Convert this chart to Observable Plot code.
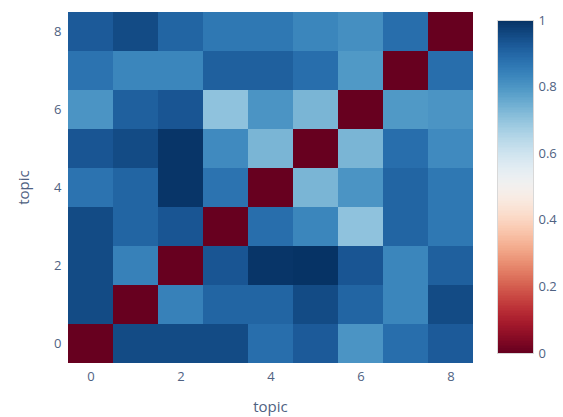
<!DOCTYPE html>
<html>
<head>
<meta charset="utf-8">
<script src="https://cdn.jsdelivr.net/npm/d3@7"></script>
<script src="https://cdn.jsdelivr.net/npm/@observablehq/plot@0.6"></script>
<style>
  html, body { margin: 0; padding: 0; background: #fff; }
  #wrap { position: relative; width: 563px; height: 417px; }
  #wrap > div { position: absolute; top: 0; }
  text { font-family: "Open Sans", sans-serif; }
</style>
</head>
<body>
<div id="wrap"><div id="main" style="left:0"></div><div id="bar" style="left:497px"></div></div>
<script>
// topics (x and y categories)
const topics = [0, 1, 2, 3, 4, 5, 6, 7, 8];
const tickLabels = [0, 2, 4, 6, 8];
const colorTicks = [0, 0.2, 0.4, 0.6, 0.8, 1];
// distance matrix rows: row i = topic on y axis, columns = topic on x axis
const row0 = [0.00, 0.95, 0.95, 0.95, 0.88, 0.92, 0.80, 0.88, 0.92];
const row1 = [0.95, 0.00, 0.84, 0.90, 0.90, 0.95, 0.90, 0.83, 0.95];
const row2 = [0.95, 0.84, 0.00, 0.93, 0.99, 0.995, 0.93, 0.83, 0.91];
const row3 = [0.95, 0.90, 0.93, 0.00, 0.88, 0.83, 0.70, 0.90, 0.86];
const row4 = [0.87, 0.90, 0.99, 0.87, 0.00, 0.73, 0.80, 0.90, 0.86];
const row5 = [0.93, 0.95, 0.99, 0.82, 0.73, 0.00, 0.73, 0.88, 0.82];
const row6 = [0.80, 0.91, 0.93, 0.70, 0.80, 0.73, 0.00, 0.79, 0.80];
const row7 = [0.87, 0.83, 0.83, 0.91, 0.91, 0.88, 0.79, 0.00, 0.88];
const row8 = [0.92, 0.95, 0.90, 0.86, 0.86, 0.83, 0.81, 0.88, 0.00];
const rows = [row0, row1, row2, row3, row4, row5, row6, row7, row8];

const cells = [];
rows.forEach((r, yi) => r.forEach((v, xi) => cells.push({x: topics[xi], y: topics[yi], v})));

const textColor = "#4f6282";
const colorOpts = {type: "linear", scheme: "rdbu", domain: [0, 1]};

const main = Plot.plot({
  width: 563, height: 417,
  marginLeft: 65, marginRight: 88, marginTop: 8, marginBottom: 51,
  style: {fontFamily: "Open Sans, sans-serif", fontSize: "13px", color: textColor, background: "#fff"},
  x: {type: "band", domain: topics, padding: 0, label: null},
  y: {type: "band", domain: topics.slice().reverse(), padding: 0, label: null},
  color: colorOpts,
  marks: [
    Plot.cell(cells, {x: "x", y: "y", fill: "v", inset: 0, shapeRendering: "crispEdges"}),
    Plot.axisX({ticks: tickLabels, tickSize: 0, tickPadding: 5, fontSize: 13, fill: textColor, label: "topic", labelAnchor: "center", labelArrow: "none", labelOffset: 45}),
    Plot.axisY({ticks: tickLabels, tickSize: 0, tickPadding: 4, fontSize: 13, fill: textColor, label: "topic", labelAnchor: "center", labelArrow: "none", labelOffset: 47})
  ]
});
main.querySelectorAll("[aria-label='x-axis label'] text, [aria-label='y-axis label'] text").forEach(t => { t.style.fontSize = "15px"; });
document.getElementById("main").appendChild(main);

// vertical colorbar
const steps = d3.range(0, 1, 0.005).map(v => ({v0: v, v1: Math.min(1, v + 0.006), v}));
const bar = Plot.plot({
  width: 66, height: 417,
  marginLeft: 0, marginRight: 30, marginTop: 20, marginBottom: 64,
  style: {fontFamily: "Open Sans, sans-serif", fontSize: "13px", color: textColor, background: "transparent"},
  x: {domain: [0, 1], axis: null},
  y: {domain: [0, 1], axis: null},
  color: colorOpts,
  marks: [
    Plot.rect(steps, {x1: 0, x2: 1, y1: "v0", y2: "v1", fill: "v", shapeRendering: "crispEdges"}),
    Plot.frame({stroke: "#d8d8d8", strokeWidth: 1}),
    Plot.axisY({anchor: "right", ticks: colorTicks, tickSize: 0, tickPadding: 5, fontSize: 13, fill: textColor, label: null, tickFormat: d => String(d)})
  ]
});
document.getElementById("bar").appendChild(bar);
</script>
</body>
</html>
